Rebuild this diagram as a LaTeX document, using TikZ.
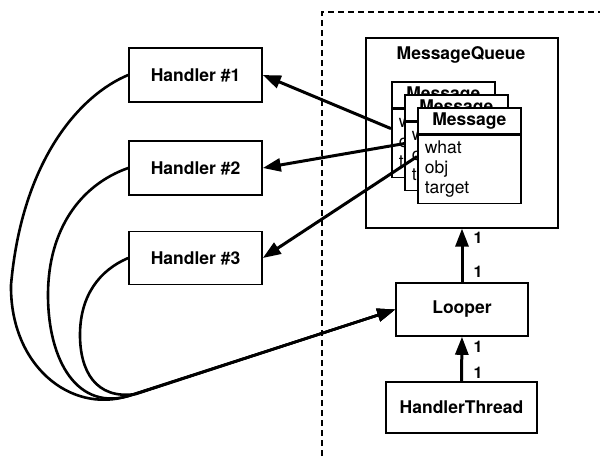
\documentclass[tikz,border=0pt]{standalone}
\usepackage{fontspec}
\setmainfont{TeX Gyre Heros}
\usetikzlibrary{arrows.meta}
\begin{document}
\begin{tikzpicture}[x=1pt,y=-1pt,
  box/.style={draw, line width=1.6pt, fill=white, inner sep=0pt,
    font=\fontsize{17.5}{20}\selectfont\bfseries},
  msgbody/.style={draw, line width=1.6pt, fill=white, inner ysep=0pt, inner xsep=7pt,
    text width=89pt, align=left, minimum height=68pt, anchor=north west,
    font=\fontsize{17.5}{20}\selectfont},
  lbl/.style={font=\fontsize{16}{18}\selectfont\bfseries, inner sep=0pt},
  conn/.style={line width=3pt, -{Triangle[length=18pt,width=13pt]}},
  curve/.style={line width=2.6pt, -{Triangle[length=18pt,width=13pt]}},
  boundary/.style={line width=1.5pt, dash pattern=on 6pt off 4pt}
]
\useasboundingbox (0,0) rectangle (600,456);

% boundary
\coordinate (b1) at (322,456);
\coordinate (b2) at (322,12);
\coordinate (b3) at (600,12);
\draw[boundary] (b1) -- (b2) -- (b3);

% handlers
\node[box, minimum width=133pt, minimum height=54pt] (h1) at (195.5,75) {Handler \#1};
\node[box, minimum width=133pt, minimum height=54pt] (h2) at (195.5,168) {Handler \#2};
\node[box, minimum width=133pt, minimum height=53pt] (h3) at (195.5,258) {Handler \#3};

% message queue
\node[box, minimum width=192pt, minimum height=190pt, anchor=north west] (mq) at (365,37) {};
\node[font=\fontsize{17.5}{20}\selectfont\bfseries, inner sep=0pt] (mqt) at (461,55) {MessageQueue};

% messages
\node[box, minimum width=103pt, minimum height=26pt, anchor=north west] (m1h) at (391,81) {Message};
\node[msgbody] (m1b) at (m1h.south west) {what\\obj\\target};
\draw[conn] ([yshift=-20pt]m1b.north west) -- (h1.east);

\node[box, minimum width=103pt, minimum height=26pt, anchor=north west] (m2h) at (404,94) {Message};
\node[msgbody] (m2b) at (m2h.south west) {what\\obj\\target};
\draw[conn] ([yshift=-22pt]m2b.north west) -- (h2.east);

\node[box, minimum width=103pt, minimum height=26pt, anchor=north west] (m3h) at (417,107) {Message};
\node[msgbody] (m3b) at (m3h.south west) {what\\obj\\target};
\draw[conn] ([yshift=-22pt]m3b.north west) -- (h3.east);

% looper and thread
\node[box, minimum width=132pt, minimum height=53pt] (lp) at (462,309.5) {Looper};
\node[box, minimum width=151pt, minimum height=51pt] (ht) at (461.5,407.5) {HandlerThread};

\draw[conn] (lp.north) -- (lp.north |- mq.south);
\draw[conn] (ht.north) -- (lp.south);

\node[lbl] (l1) at (478,238) {1};
\node[lbl] (l2) at (478,272) {1};
\node[lbl] (l3) at (478,347) {1};
\node[lbl] (l4) at (478,373) {1};

% curves from handlers to looper
\coordinate (mg1) at (128,396);
\coordinate (mg2) at (132,395);
\coordinate (mg3) at (136,394);
\draw[curve] (h1.west) .. controls (80,95) and (22,160) .. (11,285)
  .. controls (10,365) and (70,414) .. (mg1) -- (lp.west);
\draw[curve] (h2.west) .. controls (80,185) and (48,230) .. (48,295)
  .. controls (48,360) and (77,413) .. (mg2) -- (lp.west);
\draw[curve] (h3.west) .. controls (100,270) and (80,295) .. (80,335)
  .. controls (80,370) and (95,400) .. (mg3) -- (lp.west);
\end{tikzpicture}
\end{document}
